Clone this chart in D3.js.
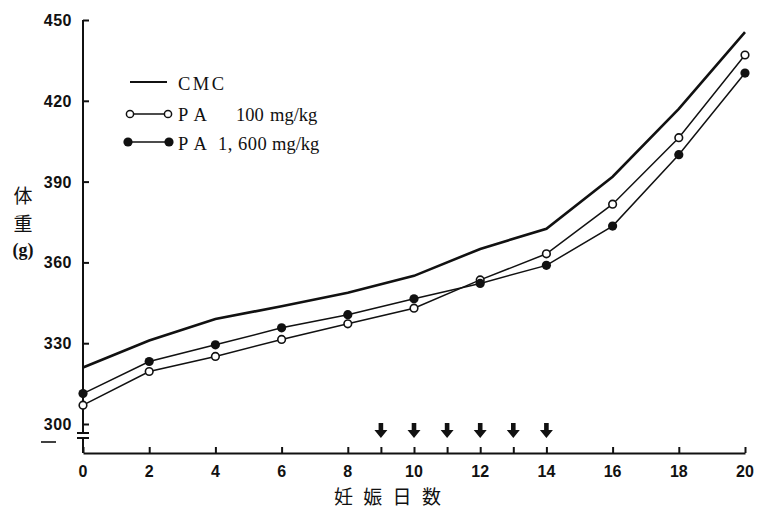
<!DOCTYPE html>
<html>
<head>
<meta charset="utf-8">
<script src="https://cdn.jsdelivr.net/npm/d3@7"></script>
<style>
  body { margin: 0; background: #fff; }
  svg { display: block; }
</style>
</head>
<body>
<div id="chart"></div>
<script>
// data
var days = [0, 2, 4, 6, 8, 10, 12, 14, 16, 18, 20];
var cmc    = [321, 331, 339, 343.7, 348.7, 355, 365, 372.5, 391.8, 417, 445.5];
var pa100  = [307, 319.5, 325.1, 331.4, 337.2, 343, 353.5, 363.2, 381.6, 406.3, 437];
var pa1600 = [311.3, 323.2, 329.4, 335.7, 340.6, 346.5, 352.2, 358.9, 373.5, 400, 430.3];
var dosingDays = [9, 10, 11, 12, 13, 14];
var xTickDays = [0, 2, 4, 6, 8, 9, 10, 11, 12, 13, 14, 16, 18, 20];
var xLabels = [0, 2, 4, 6, 8, 10, 12, 14, 16, 18, 20];
var yTicks = [300, 330, 360, 390, 420, 450];

var width = 757, height = 513;

var svg = d3.select("#chart").append("svg")
    .attr("width", width)
    .attr("height", height);

var x = d3.scaleLinear().domain([0, 20]).range([83, 745]);
var y = d3.scaleLinear().domain([300, 450]).range([424, 20]);
var xBase = 453;

var ink = "#111";

// y axis (upper part, down to the break)
var yAxis = d3.axisRight(y).tickValues(yTicks).tickSize(6).tickFormat("");
var ya = svg.append("g").attr("transform", "translate(" + x(0) + ",0)").call(yAxis);
ya.select(".domain").remove();
ya.selectAll(".tick line").attr("stroke", ink).attr("stroke-width", 2);

svg.append("line")
    .attr("x1", x(0)).attr("x2", x(0))
    .attr("y1", y(450)).attr("y2", 433)
    .attr("stroke", ink).attr("stroke-width", 2);

// break marks
svg.append("line").attr("x1", x(0) - 6).attr("x2", x(0) + 6)
    .attr("y1", 433).attr("y2", 433).attr("stroke", ink).attr("stroke-width", 2);
svg.append("line").attr("x1", x(0) - 6).attr("x2", x(0) + 6)
    .attr("y1", 438).attr("y2", 438).attr("stroke", ink).attr("stroke-width", 2);
svg.append("line").attr("x1", x(0)).attr("x2", x(0))
    .attr("y1", 438).attr("y2", xBase).attr("stroke", ink).attr("stroke-width", 2);
svg.append("line").attr("x1", 41).attr("x2", 56)
    .attr("y1", 442).attr("y2", 442).attr("stroke", ink).attr("stroke-width", 1.6);

svg.append("g").selectAll("text")
    .data(yTicks)
    .enter().append("text")
    .attr("x", 72)
    .attr("y", function(d) { return y(d) + 6; })
    .attr("text-anchor", "end")
    .attr("font-family", "Liberation Sans, Arial, sans-serif")
    .attr("font-weight", "bold")
    .attr("font-size", 16)
    .attr("letter-spacing", 0.5)
    .attr("fill", ink)
    .text(function(d) { return d; });

// x axis
var xAxis = d3.axisTop(x).tickValues(xTickDays).tickSize(6).tickSizeOuter(0).tickFormat("");
var xa = svg.append("g").attr("transform", "translate(0," + xBase + ")").call(xAxis);
xa.select(".domain").attr("stroke", ink).attr("stroke-width", 2.2);
xa.selectAll(".tick line").attr("stroke", ink).attr("stroke-width", 2);

svg.append("g").selectAll("text")
    .data(xLabels)
    .enter().append("text")
    .attr("x", function(d) { return x(d); })
    .attr("y", 477)
    .attr("text-anchor", "middle")
    .attr("font-family", "Liberation Sans, Arial, sans-serif")
    .attr("font-weight", "bold")
    .attr("font-size", 16)
    .attr("fill", ink)
    .text(function(d) { return d; });

// axis titles
svg.append("text")
    .attr("x", 389).attr("y", 504)
    .attr("text-anchor", "middle")
    .attr("font-family", "Noto Sans CJK JP, sans-serif")
    .attr("font-size", 19)
    .attr("letter-spacing", 3)
    .attr("fill", ink)
    .text("妊 娠 日 数");

var yTitle = svg.append("g").attr("font-family", "Noto Sans CJK JP, serif")
    .attr("font-size", 19).attr("fill", ink).attr("text-anchor", "middle");
yTitle.append("text").attr("x", 23).attr("y", 203).text("体");
yTitle.append("text").attr("x", 23).attr("y", 231).text("重");
yTitle.append("text").attr("x", 23).attr("y", 256)
    .attr("font-family", "Liberation Serif, serif").attr("font-weight", "bold")
    .attr("font-size", 18).text("(g)");

// dosing arrows
svg.append("g").selectAll("path")
    .data(dosingDays)
    .enter().append("path")
    .attr("d", function(d) {
        var cx = x(d), t = 423;
        return "M" + (cx - 2.3) + "," + t + "L" + (cx + 2.3) + "," + t +
            "L" + (cx + 2.3) + "," + (t + 7) + "L" + (cx + 6.5) + "," + (t + 7) +
            "L" + cx + "," + (t + 15) + "L" + (cx - 6.5) + "," + (t + 7) +
            "L" + (cx - 2.3) + "," + (t + 7) + "Z";
    })
    .attr("fill", ink);

// lines
var line = d3.line()
    .x(function(d) { return x(d[0]); })
    .y(function(d) { return y(d[1]); });

function pairs(vals) { return days.map(function(d, i) { return [d, vals[i]]; }); }

svg.append("path").datum(pairs(cmc))
    .attr("d", line).attr("fill", "none").attr("stroke", ink).attr("stroke-width", 2.6);
svg.append("path").datum(pairs(pa100))
    .attr("d", line).attr("fill", "none").attr("stroke", ink).attr("stroke-width", 1.5);
svg.append("path").datum(pairs(pa1600))
    .attr("d", line).attr("fill", "none").attr("stroke", ink).attr("stroke-width", 1.5);

svg.append("g").selectAll("circle")
    .data(pairs(pa100))
    .enter().append("circle")
    .attr("cx", function(d) { return x(d[0]); })
    .attr("cy", function(d) { return y(d[1]); })
    .attr("r", 3.8)
    .attr("fill", "#fff").attr("stroke", ink).attr("stroke-width", 1.6);

svg.append("g").selectAll("circle")
    .data(pairs(pa1600))
    .enter().append("circle")
    .attr("cx", function(d) { return x(d[0]); })
    .attr("cy", function(d) { return y(d[1]); })
    .attr("r", 4.6)
    .attr("fill", ink);

// legend
var lg = svg.append("g").attr("font-family", "Liberation Serif, Times New Roman, serif")
    .attr("font-size", 18.5).attr("fill", ink);

lg.append("line").attr("x1", 130).attr("x2", 167).attr("y1", 82).attr("y2", 82)
    .attr("stroke", ink).attr("stroke-width", 2.2);
lg.append("text").attr("x", 178).attr("y", 90).attr("letter-spacing", 2.5).text("CMC");

lg.append("line").attr("x1", 130).attr("x2", 168).attr("y1", 114).attr("y2", 114)
    .attr("stroke", ink).attr("stroke-width", 1.3);
lg.append("circle").attr("cx", 130).attr("cy", 114).attr("r", 3.6)
    .attr("fill", "#fff").attr("stroke", ink).attr("stroke-width", 1.5);
lg.append("circle").attr("cx", 168).attr("cy", 114).attr("r", 3.6)
    .attr("fill", "#fff").attr("stroke", ink).attr("stroke-width", 1.5);
lg.append("text").attr("x", 178).attr("y", 121).attr("letter-spacing", 7).text("PA");
lg.append("text").attr("x", 236).attr("y", 121).text("100");
lg.append("text").attr("x", 270).attr("y", 121).text("mg/kg");

lg.append("line").attr("x1", 128).attr("x2", 169).attr("y1", 142).attr("y2", 142)
    .attr("stroke", ink).attr("stroke-width", 1.5);
lg.append("circle").attr("cx", 128).attr("cy", 142).attr("r", 4.6).attr("fill", ink);
lg.append("circle").attr("cx", 169).attr("cy", 142).attr("r", 4.6).attr("fill", ink);
lg.append("text").attr("x", 178).attr("y", 150).attr("letter-spacing", 7).text("PA");
lg.append("text").attr("x", 218).attr("y", 150).attr("letter-spacing", 0.5).text("1, 600");
lg.append("text").attr("x", 272).attr("y", 150).text("mg/kg");
</script>
</body>
</html>
